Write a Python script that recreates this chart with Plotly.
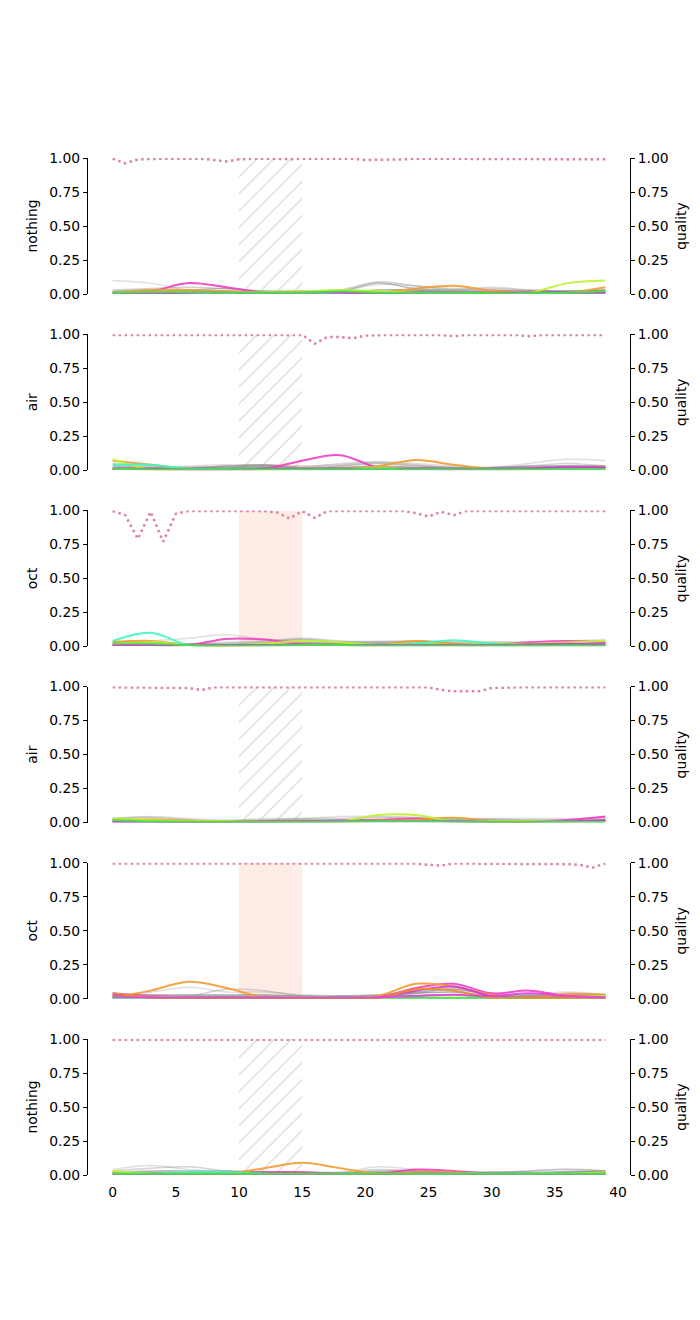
import plotly.graph_objects as go
from plotly.subplots import make_subplots

# x positions: quality is sampled every frame, scores on a coarser grid
XQ = list(range(40))
XC = [0, 3, 6, 9, 12, 15, 18, 21, 24, 27, 30, 33, 36, 39]

PANEL_LABELS = ["nothing", "air", "oct", "air", "oct", "nothing"]
STIM_START, STIM_END = 10, 15

LINE_COLORS = ["#f23fc0", "#f59b35", "#bdf22f", "#3ff7c4", "#d23ad8", "#45e645", "#ee8a2a", "#ea3fe6"]
GRAY_ALPHAS = [0.25, 0.35, 0.5, 0.65, 0.8]

# ---- panel 1: nothing
P1_QUALITY = [0.995, 0.96, 0.99, 0.995, 0.995, 0.995, 0.995, 0.995, 0.985, 0.975,
              0.99, 0.995, 0.995, 0.995, 0.99, 0.995, 0.995, 0.995, 0.995, 0.995,
              0.985, 0.985, 0.985, 0.99, 0.995, 0.995, 0.995, 0.995, 0.995, 0.995,
              0.995, 0.995, 0.995, 0.99, 0.995, 0.995, 0.995, 0.995, 0.99, 0.99]
P1_GRAY = [
    [0.10, 0.08, 0.03, 0.02, 0.02, 0.02, 0.02, 0.07, 0.06, 0.03, 0.05, 0.03, 0.02, 0.02],
    [0.03, 0.04, 0.05, 0.04, 0.02, 0.02, 0.03, 0.09, 0.06, 0.04, 0.04, 0.03, 0.02, 0.03],
    [0.02, 0.03, 0.03, 0.04, 0.02, 0.02, 0.02, 0.08, 0.04, 0.03, 0.03, 0.02, 0.02, 0.02],
    [0.015, 0.02, 0.02, 0.02, 0.015, 0.015, 0.015, 0.03, 0.03, 0.02, 0.02, 0.02, 0.02, 0.03],
    [0.01, 0.01, 0.015, 0.01, 0.01, 0.01, 0.01, 0.015, 0.02, 0.015, 0.01, 0.01, 0.01, 0.02],
]
P1_LINES = [
    [0.01, 0.02, 0.08, 0.05, 0.01, 0.01, 0.01, 0.01, 0.01, 0.01, 0.01, 0.01, 0.01, 0.01],
    [0.01, 0.03, 0.03, 0.02, 0.01, 0.01, 0.01, 0.01, 0.04, 0.06, 0.025, 0.01, 0.01, 0.05],
    [0.01, 0.01, 0.01, 0.01, 0.015, 0.02, 0.03, 0.02, 0.01, 0.01, 0.01, 0.01, 0.08, 0.10],
    [0.005, 0.005, 0.005, 0.005, 0.005, 0.005, 0.005, 0.005, 0.005, 0.005, 0.005, 0.005, 0.005, 0.005],
    [0.005, 0.005, 0.01, 0.01, 0.01, 0.01, 0.01, 0.005, 0.01, 0.01, 0.01, 0.01, 0.01, 0.01],
    [0.01, 0.015, 0.015, 0.01, 0.01, 0.01, 0.02, 0.01, 0.01, 0.01, 0.005, 0.005, 0.01, 0.02],
]

# ---- panel 2: air
P2_QUALITY = [0.995, 0.995, 0.995, 0.995, 0.995, 0.995, 0.995, 0.995, 0.995, 0.99,
              0.99, 0.99, 0.99, 0.995, 0.995, 0.995, 0.93, 0.98, 0.98, 0.97,
              0.99, 0.995, 0.995, 0.995, 0.995, 0.995, 0.995, 0.985, 0.995, 0.995,
              0.995, 0.995, 0.995, 0.985, 0.995, 0.995, 0.995, 0.995, 0.995, 0.995]
P2_GRAY = [
    [0.04, 0.02, 0.03, 0.04, 0.03, 0.02, 0.05, 0.06, 0.05, 0.03, 0.02, 0.05, 0.08, 0.07],
    [0.05, 0.03, 0.02, 0.03, 0.04, 0.03, 0.04, 0.06, 0.04, 0.02, 0.02, 0.03, 0.05, 0.03],
    [0.03, 0.02, 0.02, 0.03, 0.04, 0.02, 0.03, 0.05, 0.03, 0.02, 0.02, 0.03, 0.03, 0.02],
    [0.02, 0.015, 0.015, 0.02, 0.03, 0.015, 0.02, 0.03, 0.02, 0.015, 0.015, 0.02, 0.03, 0.03],
    [0.01, 0.01, 0.01, 0.015, 0.02, 0.01, 0.015, 0.02, 0.015, 0.01, 0.01, 0.015, 0.02, 0.02],
]
P2_LINES = [
    [0.01, 0.005, 0.005, 0.005, 0.01, 0.07, 0.11, 0.02, 0.01, 0.005, 0.005, 0.01, 0.02, 0.02],
    [0.07, 0.04, 0.01, 0.01, 0.01, 0.01, 0.01, 0.03, 0.075, 0.04, 0.01, 0.01, 0.015, 0.02],
    [0.08, 0.005, 0.005, 0.005, 0.005, 0.01, 0.01, 0.02, 0.01, 0.01, 0.005, 0.005, 0.01, 0.01],
    [0.04, 0.04, 0.01, 0.01, 0.01, 0.005, 0.005, 0.005, 0.005, 0.01, 0.01, 0.01, 0.01, 0.01],
    [0.01, 0.01, 0.005, 0.005, 0.01, 0.01, 0.01, 0.01, 0.01, 0.01, 0.01, 0.015, 0.02, 0.02],
    [0.01, 0.005, 0.005, 0.005, 0.005, 0.005, 0.005, 0.01, 0.005, 0.005, 0.005, 0.005, 0.005, 0.005],
]

# ---- panel 3: oct
P3_QUALITY = [0.995, 0.965, 0.79, 0.99, 0.77, 0.975, 0.995, 0.995, 0.995, 0.995,
              0.995, 0.995, 0.995, 0.985, 0.94, 0.995, 0.945, 0.995, 0.995, 0.995,
              0.995, 0.995, 0.995, 0.995, 0.98, 0.955, 0.99, 0.965, 0.995, 0.995,
              0.995, 0.995, 0.995, 0.995, 0.995, 0.995, 0.995, 0.995, 0.995, 0.995]
P3_GRAY = [
    [0.03, 0.04, 0.06, 0.085, 0.05, 0.04, 0.03, 0.04, 0.04, 0.03, 0.03, 0.03, 0.04, 0.05],
    [0.04, 0.03, 0.02, 0.03, 0.04, 0.06, 0.04, 0.03, 0.04, 0.03, 0.03, 0.03, 0.03, 0.04],
    [0.02, 0.02, 0.02, 0.02, 0.03, 0.05, 0.03, 0.03, 0.03, 0.02, 0.02, 0.02, 0.02, 0.03],
    [0.01, 0.02, 0.01, 0.01, 0.02, 0.03, 0.02, 0.02, 0.02, 0.015, 0.015, 0.015, 0.015, 0.02],
    [0.01, 0.01, 0.01, 0.01, 0.01, 0.02, 0.015, 0.01, 0.01, 0.01, 0.01, 0.01, 0.01, 0.01],
]
P3_LINES = [
    [0.01, 0.01, 0.01, 0.055, 0.05, 0.015, 0.01, 0.01, 0.01, 0.01, 0.01, 0.03, 0.04, 0.03],
    [0.03, 0.04, 0.01, 0.005, 0.01, 0.01, 0.01, 0.01, 0.04, 0.02, 0.01, 0.01, 0.01, 0.01],
    [0.01, 0.03, 0.01, 0.005, 0.02, 0.04, 0.03, 0.01, 0.02, 0.01, 0.02, 0.02, 0.03, 0.04],
    [0.04, 0.10, 0.01, 0.01, 0.01, 0.01, 0.01, 0.01, 0.02, 0.045, 0.02, 0.01, 0.01, 0.01],
    [0.01, 0.01, 0.01, 0.01, 0.01, 0.01, 0.01, 0.01, 0.01, 0.01, 0.01, 0.015, 0.02, 0.015],
    [0.02, 0.02, 0.01, 0.005, 0.005, 0.01, 0.01, 0.005, 0.005, 0.005, 0.005, 0.005, 0.005, 0.005],
]

# ---- panel 4: air
P4_QUALITY = [0.995, 0.995, 0.995, 0.995, 0.995, 0.995, 0.99, 0.975, 0.995, 0.995,
              0.995, 0.995, 0.995, 0.995, 0.995, 0.995, 0.995, 0.995, 0.995, 0.995,
              0.995, 0.995, 0.995, 0.995, 0.995, 0.995, 0.975, 0.965, 0.965, 0.965,
              0.99, 0.995, 0.995, 0.995, 0.995, 0.995, 0.995, 0.995, 0.995, 0.995]
P4_GRAY = [
    [0.03, 0.045, 0.03, 0.015, 0.03, 0.03, 0.045, 0.045, 0.04, 0.03, 0.03, 0.03, 0.03, 0.04],
    [0.03, 0.04, 0.02, 0.015, 0.02, 0.03, 0.03, 0.04, 0.035, 0.03, 0.025, 0.02, 0.02, 0.03],
    [0.02, 0.02, 0.015, 0.01, 0.015, 0.02, 0.02, 0.025, 0.02, 0.02, 0.02, 0.015, 0.015, 0.02],
    [0.015, 0.015, 0.01, 0.01, 0.01, 0.015, 0.015, 0.02, 0.015, 0.015, 0.015, 0.01, 0.01, 0.015],
    [0.01, 0.01, 0.01, 0.005, 0.005, 0.01, 0.01, 0.01, 0.01, 0.01, 0.01, 0.01, 0.01, 0.01],
]
P4_LINES = [
    [0.01, 0.01, 0.005, 0.01, 0.01, 0.01, 0.015, 0.02, 0.03, 0.01, 0.01, 0.01, 0.02, 0.045],
    [0.02, 0.025, 0.015, 0.01, 0.01, 0.01, 0.01, 0.015, 0.02, 0.035, 0.01, 0.01, 0.01, 0.01],
    [0.03, 0.02, 0.01, 0.01, 0.01, 0.01, 0.01, 0.055, 0.055, 0.01, 0.01, 0.01, 0.01, 0.015],
    [0.01, 0.005, 0.005, 0.005, 0.005, 0.005, 0.01, 0.01, 0.01, 0.015, 0.005, 0.005, 0.01, 0.01],
    [0.005, 0.005, 0.005, 0.005, 0.01, 0.01, 0.01, 0.01, 0.01, 0.01, 0.005, 0.005, 0.01, 0.02],
    [0.02, 0.01, 0.005, 0.005, 0.005, 0.005, 0.005, 0.01, 0.01, 0.005, 0.005, 0.005, 0.005, 0.005],
]

# ---- panel 5: oct
P5_QUALITY = [0.995, 0.995, 0.995, 0.995, 0.995, 0.995, 0.995, 0.995, 0.99, 0.99,
              0.995, 0.995, 0.995, 0.995, 0.995, 0.995, 0.995, 0.995, 0.995, 0.995,
              0.995, 0.995, 0.995, 0.995, 0.995, 0.985, 0.98, 0.995, 0.995, 0.995,
              0.995, 0.995, 0.99, 0.995, 0.995, 0.995, 0.99, 0.985, 0.965, 0.995]
P5_GRAY = [
    [0.02, 0.05, 0.085, 0.05, 0.05, 0.03, 0.02, 0.02, 0.05, 0.08, 0.04, 0.03, 0.05, 0.03],
    [0.03, 0.02, 0.02, 0.07, 0.06, 0.02, 0.02, 0.02, 0.04, 0.07, 0.03, 0.02, 0.04, 0.03],
    [0.03, 0.03, 0.03, 0.03, 0.03, 0.02, 0.02, 0.03, 0.05, 0.07, 0.03, 0.03, 0.03, 0.03],
    [0.02, 0.02, 0.02, 0.02, 0.02, 0.02, 0.015, 0.02, 0.04, 0.05, 0.02, 0.02, 0.02, 0.02],
    [0.01, 0.015, 0.015, 0.015, 0.015, 0.015, 0.01, 0.015, 0.025, 0.03, 0.015, 0.015, 0.015, 0.015],
]
P5_LINES = [
    [0.04, 0.02, 0.01, 0.01, 0.005, 0.005, 0.005, 0.01, 0.08, 0.11, 0.04, 0.06, 0.02, 0.01],
    [0.01, 0.06, 0.125, 0.08, 0.01, 0.005, 0.005, 0.02, 0.11, 0.09, 0.03, 0.01, 0.035, 0.03],
    [0.02, 0.015, 0.01, 0.01, 0.01, 0.015, 0.01, 0.01, 0.01, 0.01, 0.01, 0.01, 0.01, 0.02],
    [0.005, 0.005, 0.005, 0.005, 0.005, 0.005, 0.005, 0.005, 0.005, 0.005, 0.005, 0.005, 0.005, 0.005],
    [0.03, 0.01, 0.005, 0.005, 0.005, 0.005, 0.005, 0.01, 0.06, 0.09, 0.02, 0.01, 0.01, 0.01],
    [0.015, 0.01, 0.01, 0.01, 0.01, 0.01, 0.01, 0.005, 0.005, 0.005, 0.005, 0.005, 0.005, 0.005],
    [0.04, 0.01, 0.005, 0.005, 0.005, 0.005, 0.005, 0.005, 0.07, 0.06, 0.005, 0.005, 0.005, 0.005],
    [0.01, 0.01, 0.01, 0.01, 0.01, 0.01, 0.01, 0.01, 0.02, 0.03, 0.02, 0.04, 0.02, 0.01],
]

# ---- panel 6: nothing
P6_QUALITY = [0.995, 0.995, 0.995, 0.995, 0.995, 0.995, 0.995, 0.995, 0.995, 0.995,
              0.995, 0.995, 0.995, 0.995, 0.995, 0.995, 0.995, 0.995, 0.995, 0.995,
              0.99, 0.99, 0.995, 0.995, 0.995, 0.995, 0.995, 0.995, 0.995, 0.995,
              0.995, 0.995, 0.995, 0.995, 0.995, 0.995, 0.995, 0.995, 0.995, 0.995]
P6_GRAY = [
    [0.04, 0.07, 0.04, 0.02, 0.02, 0.02, 0.02, 0.06, 0.04, 0.02, 0.02, 0.03, 0.045, 0.03],
    [0.03, 0.05, 0.06, 0.03, 0.02, 0.02, 0.02, 0.04, 0.03, 0.02, 0.02, 0.03, 0.04, 0.03],
    [0.02, 0.03, 0.03, 0.03, 0.025, 0.02, 0.015, 0.03, 0.03, 0.02, 0.02, 0.02, 0.025, 0.03],
    [0.015, 0.02, 0.02, 0.02, 0.02, 0.015, 0.01, 0.02, 0.02, 0.015, 0.015, 0.015, 0.02, 0.025],
    [0.01, 0.01, 0.015, 0.015, 0.015, 0.01, 0.01, 0.015, 0.015, 0.01, 0.01, 0.01, 0.015, 0.015],
]
P6_LINES = [
    [0.01, 0.01, 0.01, 0.01, 0.02, 0.02, 0.01, 0.01, 0.04, 0.03, 0.01, 0.01, 0.01, 0.01],
    [0.02, 0.01, 0.01, 0.01, 0.05, 0.09, 0.05, 0.01, 0.02, 0.02, 0.005, 0.01, 0.01, 0.01],
    [0.03, 0.01, 0.005, 0.005, 0.005, 0.005, 0.005, 0.005, 0.005, 0.005, 0.005, 0.01, 0.01, 0.02],
    [0.01, 0.01, 0.02, 0.02, 0.01, 0.005, 0.005, 0.005, 0.005, 0.01, 0.01, 0.01, 0.01, 0.005],
    [0.005, 0.005, 0.005, 0.005, 0.005, 0.005, 0.005, 0.005, 0.01, 0.01, 0.005, 0.005, 0.005, 0.01],
    [0.01, 0.01, 0.01, 0.01, 0.01, 0.01, 0.01, 0.01, 0.01, 0.01, 0.01, 0.01, 0.01, 0.01],
]

PANELS = [
    (P1_QUALITY, P1_GRAY, P1_LINES),
    (P2_QUALITY, P2_GRAY, P2_LINES),
    (P3_QUALITY, P3_GRAY, P3_LINES),
    (P4_QUALITY, P4_GRAY, P4_LINES),
    (P5_QUALITY, P5_GRAY, P5_LINES),
    (P6_QUALITY, P6_GRAY, P6_LINES),
]

FONT = "DejaVu Sans"
n_rows = len(PANELS)

fig = make_subplots(
    rows=n_rows, cols=1,
    specs=[[{"secondary_y": True}] for _ in range(n_rows)],
    vertical_spacing=40.2 / 1017,
)

for i, (label, (quality, grays, lines)) in enumerate(zip(PANEL_LABELS, PANELS)):
    row = i + 1

    # stimulus window
    if label == "oct":
        fig.add_shape(
            type="rect", x0=STIM_START, x1=STIM_END, y0=0, y1=1,
            fillcolor="#feece6", line_width=0, layer="below",
            row=row, col=1,
        )
    else:
        fig.add_trace(
            go.Bar(
                x=[(STIM_START + STIM_END) / 2], y=[1], base=0,
                width=[STIM_END - STIM_START],
                marker=dict(
                    color="rgba(0,0,0,0)", line_width=0,
                    pattern=dict(shape="/", fgcolor="#a8a8a8", size=12, solidity=0.1),
                ),
                hoverinfo="skip", showlegend=False,
            ),
            row=row, col=1, secondary_y=False,
        )

    for alpha, ys in zip(GRAY_ALPHAS, grays):
        fig.add_trace(
            go.Scatter(
                x=XC, y=ys, mode="lines",
                line=dict(color=f"rgba(128,128,128,{alpha})", width=1.5, shape="spline"),
                hoverinfo="skip", showlegend=False,
            ),
            row=row, col=1, secondary_y=False,
        )

    for color, ys in zip(LINE_COLORS, lines):
        fig.add_trace(
            go.Scatter(
                x=XC, y=ys, mode="lines",
                line=dict(color=color, width=2, shape="spline"),
                opacity=0.9, hoverinfo="skip", showlegend=False,
            ),
            row=row, col=1, secondary_y=False,
        )

    fig.add_trace(
        go.Scatter(
            x=XQ, y=quality, mode="lines",
            line=dict(color="#d9849a", width=2.5, dash="2.5px,3.5px"),
            name="quality", showlegend=False,
        ),
        row=row, col=1, secondary_y=True,
    )

    axis_style = dict(
        range=[0, 1], tickvals=[0, 0.25, 0.5, 0.75, 1], tickformat=".2f",
        ticks="outside", ticklen=4, tickwidth=1, tickcolor="black",
        showline=True, linecolor="black", linewidth=1,
        showgrid=False, zeroline=False, fixedrange=True, automargin=False,
        tickfont=dict(family=FONT, size=13.9, color="black"),
    )
    fig.update_yaxes(
        title=dict(text=label, font=dict(family=FONT, size=13.9, color="black"), standoff=8),
        row=row, col=1, secondary_y=False, **axis_style,
    )
    fig.update_yaxes(
        title=dict(text="quality", font=dict(family=FONT, size=13.9, color="black"), standoff=8),
        row=row, col=1, secondary_y=True, **axis_style,
    )
    fig.update_xaxes(
        domain=[0, 1],
        range=[-1.95, 40.95], tickvals=list(range(0, 41, 5)),
        showline=False, showgrid=False, zeroline=False, automargin=False,
        ticks="outside", ticklen=4, tickcolor="rgba(0,0,0,0)",
        showticklabels=(row == n_rows),
        tickfont=dict(family=FONT, size=13.9, color="black"),
        row=row, col=1,
    )

# page body adds an 8px offset, so margins are trimmed on the top/left
fig.update_layout(
    width=700, height=1320,
    margin=dict(l=80, r=78, t=150, b=153, autoexpand=False),
    plot_bgcolor="white", paper_bgcolor="white",
    showlegend=False, barmode="overlay",
    font=dict(family=FONT, size=13.9, color="black"),
)

fig.write_html("out.html")
